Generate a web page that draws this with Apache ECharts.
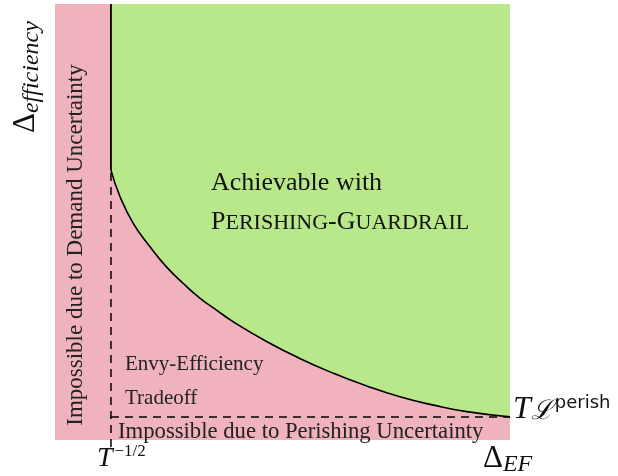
<!DOCTYPE html>
<html>
<head>
<meta charset="utf-8">
<script src="https://cdn.jsdelivr.net/npm/echarts@6/dist/echarts.min.js"></script>
<style>
  html, body { margin: 0; padding: 0; background: #fff; }
  #chart { width: 618px; height: 476px; }
</style>
</head>
<body>
<div id="chart"></div>
<script>
// boundary of the achievable region (axes 0..100)
const curveX = [12.3, 14.3, 17.2, 20.9, 24.5, 28.2, 31.9, 35.5, 39.2, 46.5, 53.8, 61.2, 68.5, 75.8, 83.2, 90.5, 100]
const curveY = [61.9, 55.8, 49.7, 44.3, 39.7, 35.9, 32.5, 29.8, 27.1, 22.6, 18.7, 15.3, 12.4, 9.9, 8.0, 6.5, 5.3]

// the two thresholds
const demandX = 12.3   // T^{-1/2}
const perishY = 5.3    // T L^perish
const xTickValues = [demandX]
const xTickLabels = ['{it|T}{sup|\u22121/2}']
const yTickValues = [perishY]
const yTickLabels = ['{it|T}{cal|\u2112}{sup|perish}']

const pink = '#f0b2bd'
const green = '#b9e88a'
const serif = 'Liberation Serif'

const chart = echarts.init(document.getElementById('chart'))

const curveData = curveX.map((x, i) => [x, curveY[i]])

const option = {
  animation: false,
  grid: {
    left: 55, top: 4, width: 455, height: 436,
    show: true, backgroundColor: pink, borderWidth: 0
  },
  xAxis: {
    type: 'value', min: 0, max: 100,
    axisLine: { show: false }, axisTick: { show: false }, splitLine: { show: false },
    axisLabel: {
      customValues: xTickValues,
      formatter: v => xTickLabels[xTickValues.indexOf(v)],
      align: 'left',
      margin: 3,
      padding: [0, 0, 0, -14],
      rich: {
        it: { fontFamily: serif, fontStyle: 'italic', fontSize: 28, color: '#111', lineHeight: 30, verticalAlign: 'bottom' },
        sup: { fontFamily: serif, fontSize: 17, color: '#111', lineHeight: 30, verticalAlign: 'top', padding: [0, 0, 0, 2] }
      }
    }
  },
  yAxis: {
    type: 'value', min: 0, max: 100, position: 'right',
    axisLine: { show: false }, axisTick: { show: false }, splitLine: { show: false },
    axisLabel: {
      customValues: yTickValues,
      formatter: v => yTickLabels[yTickValues.indexOf(v)],
      margin: 3,
      padding: [0, 0, 14, 0],
      rich: {
        it: { fontFamily: serif, fontStyle: 'italic', fontSize: 32, color: '#111', lineHeight: 32, verticalAlign: 'bottom' },
        cal: { fontFamily: 'DejaVu Serif', fontStyle: 'italic', fontSize: 27, color: '#111', lineHeight: 32, verticalAlign: 'bottom' },
        sup: { fontFamily: 'DejaVu Sans', fontSize: 18, color: '#111', lineHeight: 32, verticalAlign: 'top', padding: [0, 0, 0, 2] }
      }
    }
  },
  series: [
    {
      // achievable region above the curve
      type: 'line',
      data: curveData,
      smooth: 0.5,
      showSymbol: false,
      lineStyle: { color: '#000', width: 1.6 },
      areaStyle: { origin: 'end', color: green, opacity: 1 },
      z: 3
    },
    {
      type: 'line',
      data: [[demandX, curveY[0]], [demandX, 100]],
      showSymbol: false,
      lineStyle: { color: '#000', width: 1.8 },
      z: 4
    },
    {
      type: 'line',
      data: [[demandX, -1.6], [demandX, curveY[0]]],
      showSymbol: false,
      clip: false,
      lineStyle: { color: '#000', width: 1.5, type: [8, 6] },
      z: 4
    },
    {
      type: 'line',
      data: [[demandX, perishY], [100, perishY]],
      showSymbol: false,
      lineStyle: { color: '#000', width: 1.5, type: [8, 6] },
      z: 4
    }
  ],
  graphic: [
    {
      type: 'text', x: 27, y: 133, rotation: Math.PI / 2, z: 10,
      style: {
        text: '{d|\u0394}{s|efficiency}',
        align: 'left', verticalAlign: 'middle',
        rich: {
          d: { fontFamily: serif, fontSize: 31, fill: '#111', lineHeight: 34, verticalAlign: 'top' },
          s: { fontFamily: serif, fontStyle: 'italic', fontSize: 24, fill: '#111', lineHeight: 34, verticalAlign: 'bottom' }
        }
      }
    },
    {
      type: 'text', x: 76, y: 245, rotation: Math.PI / 2, z: 10,
      style: {
        text: 'Impossible due to Demand Uncertainty',
        fontFamily: serif, fontSize: 23, fill: '#222',
        align: 'center', verticalAlign: 'middle'
      }
    },
    {
      type: 'text', x: 211, y: 183, z: 10,
      style: {
        text: 'Achievable with',
        fontFamily: serif, fontSize: 26, fill: '#111',
        align: 'left', verticalAlign: 'middle'
      }
    },
    {
      type: 'text', x: 211, y: 221, z: 10,
      style: {
        text: '{b|P}{s|ERISHING}{b|-G}{s|UARDRAIL}',
        align: 'left', verticalAlign: 'middle',
        rich: {
          b: { fontFamily: serif, fontSize: 26, fill: '#111', lineHeight: 28, verticalAlign: 'bottom' },
          s: { fontFamily: serif, fontSize: 22, fill: '#111', lineHeight: 28, verticalAlign: 'bottom', padding: [0, 0, 1, 0] }
        }
      }
    },
    {
      type: 'text', x: 125, y: 364, z: 10,
      style: {
        text: 'Envy-Efficiency',
        fontFamily: serif, fontSize: 21, fill: '#222',
        align: 'left', verticalAlign: 'middle'
      }
    },
    {
      type: 'text', x: 125, y: 398, z: 10,
      style: {
        text: 'Tradeoff',
        fontFamily: serif, fontSize: 21, fill: '#222',
        align: 'left', verticalAlign: 'middle'
      }
    },
    {
      type: 'text', x: 118, y: 432, z: 10,
      style: {
        text: 'Impossible due to Perishing Uncertainty',
        fontFamily: serif, fontSize: 22.7, fill: '#222',
        align: 'left', verticalAlign: 'middle'
      }
    },
    {
      type: 'text', x: 483, y: 460, z: 10,
      style: {
        text: '{d|\u0394}{s|EF}',
        align: 'left', verticalAlign: 'middle',
        rich: {
          d: { fontFamily: serif, fontSize: 31, fill: '#111', lineHeight: 34, verticalAlign: 'top' },
          s: { fontFamily: serif, fontStyle: 'italic', fontSize: 24, fill: '#111', lineHeight: 34, verticalAlign: 'bottom' }
        }
      }
    }
  ]
}

chart.setOption(option)
</script>
</body>
</html>
